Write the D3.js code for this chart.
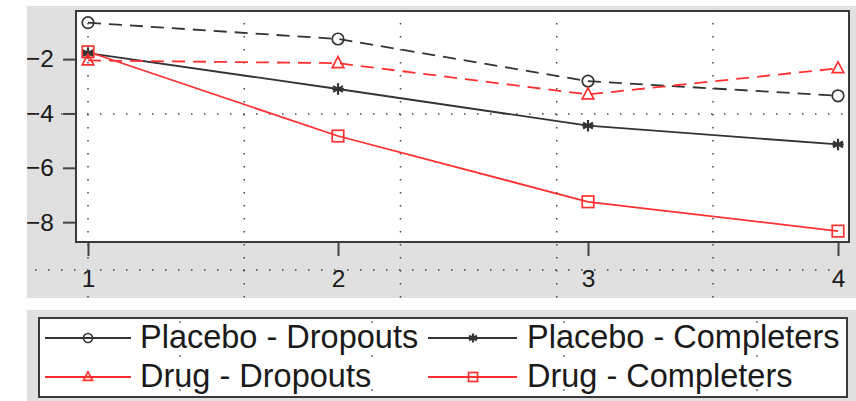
<!DOCTYPE html>
<html><head><meta charset="utf-8">
<script src="https://cdn.jsdelivr.net/npm/d3@7"></script>
<style>body{margin:0;background:#fff}svg{display:block}text{font-family:"Liberation Sans",Arial,sans-serif;fill:#1a1a1a}</style>
</head><body><svg id="c" width="856" height="401"></svg>
<script>
const visits = [1, 2, 3, 4];
const placeboDropouts = [-0.66, -1.26, -2.81, -3.35];
const placeboCompleters = [-1.78, -3.10, -4.45, -5.14];
const drugDropouts = [-2.05, -2.15, -3.30, -2.34];
const drugCompleters = [-1.73, -4.83, -7.25, -8.33];
const yTicks = [-2, -4, -6, -8];
const xTicks = [1, 2, 3, 4];
const seriesNames = ["Placebo - Dropouts", "Placebo - Completers", "Drug - Dropouts", "Drug - Completers"];

const BLACK = "#333", RED = "#ff3030";
const series = [
  {name: seriesNames[0], values: placeboDropouts, color: BLACK, dash: "13,8", marker: "circle"},
  {name: seriesNames[1], values: placeboCompleters, color: BLACK, dash: null, marker: "star"},
  {name: seriesNames[2], values: drugDropouts, color: RED, dash: "13,8", marker: "triangle"},
  {name: seriesNames[3], values: drugCompleters, color: RED, dash: null, marker: "square"}
];

const svg = d3.select("#c");
const box = {x0: 76, x1: 849, y0: 11, y1: 242};
const x = d3.scaleLinear().domain([1, 4]).range([88, 838]);
const y = d3.scaleLinear().domain([-0.23, -8.73]).range([box.y0, box.y1]);

// backgrounds
svg.append("rect").attr("x", 27).attr("y", 6).attr("width", 829).attr("height", 292).attr("fill", "#e0e0e0");
svg.append("rect").attr("x", 27).attr("y", 310).attr("width", 829).attr("height", 91).attr("fill", "#e0e0e0");
svg.append("rect").attr("x", box.x0).attr("y", box.y0).attr("width", box.x1 - box.x0).attr("height", box.y1 - box.y0)
  .attr("fill", "#fff").attr("stroke", "#3a3a3a").attr("stroke-width", 2);

// axes
const yAxis = svg.append("g").attr("transform", `translate(${box.x0 - 1},0)`)
  .call(d3.axisLeft(y).tickValues(yTicks).tickSize(12).tickPadding(9).tickFormat(d3.format("d")));
const xAxis = svg.append("g").attr("transform", `translate(0,${box.y1 + 1})`)
  .call(d3.axisBottom(x).tickValues(xTicks).tickSize(13).tickPadding(14).tickFormat(d3.format("d")));
[yAxis, xAxis].forEach(g => {
  g.select(".domain").remove();
  g.selectAll(".tick line").attr("stroke", "#444").attr("stroke-width", 2);
  g.selectAll(".tick text").attr("font-size", 24.5).attr("fill", "#1a1a1a")
    .style("font-family", '"Liberation Sans",Arial,sans-serif');
});

// dotted overlay grid
const dots = svg.append("g").attr("stroke", "#444").attr("stroke-width", 1.5).attr("stroke-dasharray", "1.5,11.5");
for (let k = 0; k < 5; k++) {
  const gx = 88 + k * 156.25;
  dots.append("line").attr("x1", gx).attr("x2", gx).attr("y1", 10).attr("y2", 299);
}
[114, 270].forEach(gy => dots.append("line").attr("x1", 35).attr("x2", 852).attr("y1", gy).attr("y2", gy));

function marker(g, type, cx, cy, color, s) {
  const m = g.append("g").attr("fill", "none").attr("stroke", color).attr("stroke-width", 1.7);
  if (type === "circle") m.append("circle").attr("cx", cx).attr("cy", cy).attr("r", s * 0.5);
  else if (type === "square") m.append("rect").attr("x", cx - s / 2).attr("y", cy - s / 2).attr("width", s).attr("height", s);
  else if (type === "triangle") {
    const h = s * 0.95;
    m.append("path").attr("d", `M${cx},${cy - h * 0.6}L${cx + s / 2},${cy + h * 0.4}L${cx - s / 2},${cy + h * 0.4}Z`);
  } else if (type === "star") {
    const r = s / 2;
    let d = "";
    [90, 30, -30, 0].forEach(a => {
      const t = a * Math.PI / 180;
      d += `M${cx - r * Math.cos(t)},${cy - r * Math.sin(t)}L${cx + r * Math.cos(t)},${cy + r * Math.sin(t)}`;
    });
    m.append("path").attr("d", d).attr("stroke-width", 2.2);
  }
}

const line = d3.line().x((d, i) => x(visits[i])).y(d => y(d));
const plot = svg.append("g");
series.forEach(s => {
  plot.append("path").datum(s.values).attr("d", line).attr("fill", "none")
    .attr("stroke", s.color).attr("stroke-width", 1.8).attr("stroke-dasharray", s.dash);
});
series.forEach(s => {
  s.values.forEach((v, i) => marker(plot, s.marker, x(visits[i]), y(v), s.color, 11.5));
});

// legend
svg.append("rect").attr("x", 39).attr("y", 318).attr("width", 808).attr("height", 79)
  .attr("fill", "#fff").attr("stroke", "#3a3a3a").attr("stroke-width", 2);
const legPos = [
  {lx0: 45, lx1: 131, mx: 88, tx: 140, ly: 338, ty: 348},
  {lx0: 428, lx1: 517, mx: 473, tx: 527, ly: 338, ty: 348},
  {lx0: 45, lx1: 131, mx: 88, tx: 140, ly: 377, ty: 387},
  {lx0: 428, lx1: 517, mx: 473, tx: 527, ly: 377, ty: 387}
];
const leg = svg.append("g");
series.forEach((s, i) => {
  const p = legPos[i];
  leg.append("line").attr("x1", p.lx0).attr("x2", p.lx1).attr("y1", p.ly).attr("y2", p.ly)
    .attr("stroke", s.color).attr("stroke-width", 1.8);
  marker(leg, s.marker, p.mx, p.ly, s.color, 9);
  leg.append("text").attr("x", p.tx).attr("y", p.ty).attr("font-size", 32.5).text(s.name);
});
// legend dot artifacts
const ld = svg.append("g").attr("fill", "#444");
[180, 372, 564, 757].forEach(dx => [322, 356, 390].forEach(dy =>
  ld.append("rect").attr("x", dx - 0.75).attr("y", dy - 0.75).attr("width", 1.5).attr("height", 1.5)));
</script></body></html>
